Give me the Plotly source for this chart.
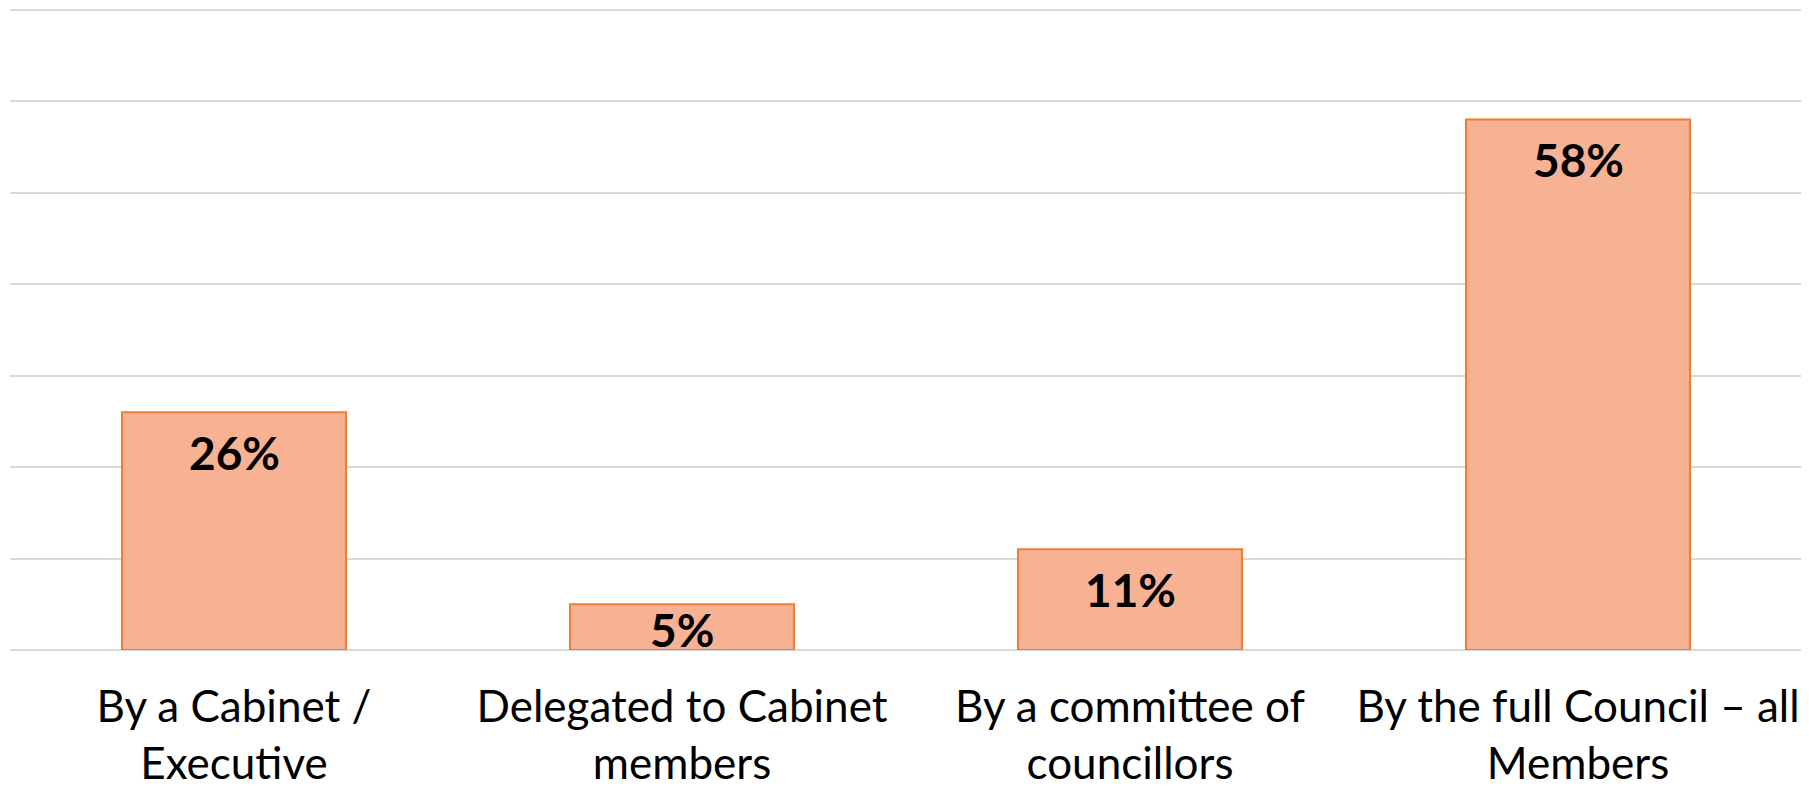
import plotly.graph_objects as go

categories = [
    "By a Cabinet /<br>Executive",
    "Delegated to Cabinet<br>members",
    "By a committee of<br>councillors",
    "By the full Council – all<br>Members",
]
values = [26, 5, 11, 58]
labels = ["26%", "5%", "11%", "58%"]

# page body has an 8px default margin, so the figure is sized/offset to compensate
W, H = 1801, 782
M_L, M_R, M_T, M_B = 2, 7, 0, 140
plot_h = H - M_T - M_B
TOP_PAD = 1.6  # px between the 70% gridline and the plot top edge
Y_MAX = 70 * plot_h / (plot_h - TOP_PAD)
px_per_unit = plot_h / Y_MAX

FONT = "Lato, 'Open Sans', sans-serif"

fig = go.Figure()
fig.add_trace(go.Bar(
    x=categories,
    y=values,
    marker=dict(color="#F6B293", line=dict(color="#ED7D31", width=2)),
    hoverinfo="skip",
))

for c, v, t in zip(categories, values, labels):
    shift = -min(40, v * px_per_unit / 2 + 2)
    fig.add_annotation(
        x=c, y=v, text=f"<b>{t}</b>", showarrow=False,
        yanchor="middle", yshift=shift,
        font=dict(family=FONT, size=46, color="#000000"),
    )

fig.update_layout(
    width=W, height=H,
    margin=dict(l=M_L, r=M_R, t=M_T, b=M_B, autoexpand=False),
    paper_bgcolor="white", plot_bgcolor="white",
    bargap=0.5, showlegend=False,
    font=dict(family=FONT, color="#000000"),
)
fig.update_xaxes(
    showgrid=False, showline=False, zeroline=False, automargin=False,
    ticks="outside", ticklen=18, tickcolor="rgba(0,0,0,0)",
    tickfont=dict(family=FONT, size=44, color="#000000"),
    tickangle=0,
)
fig.update_yaxes(
    range=[0, Y_MAX], tick0=0, dtick=10, showticklabels=False, automargin=False,
    showgrid=True, gridcolor="#D9D9D9", gridwidth=2,
    zeroline=True, zerolinecolor="#D9D9D9", zerolinewidth=2,
    showline=False,
)

fig.write_html("out.html")
